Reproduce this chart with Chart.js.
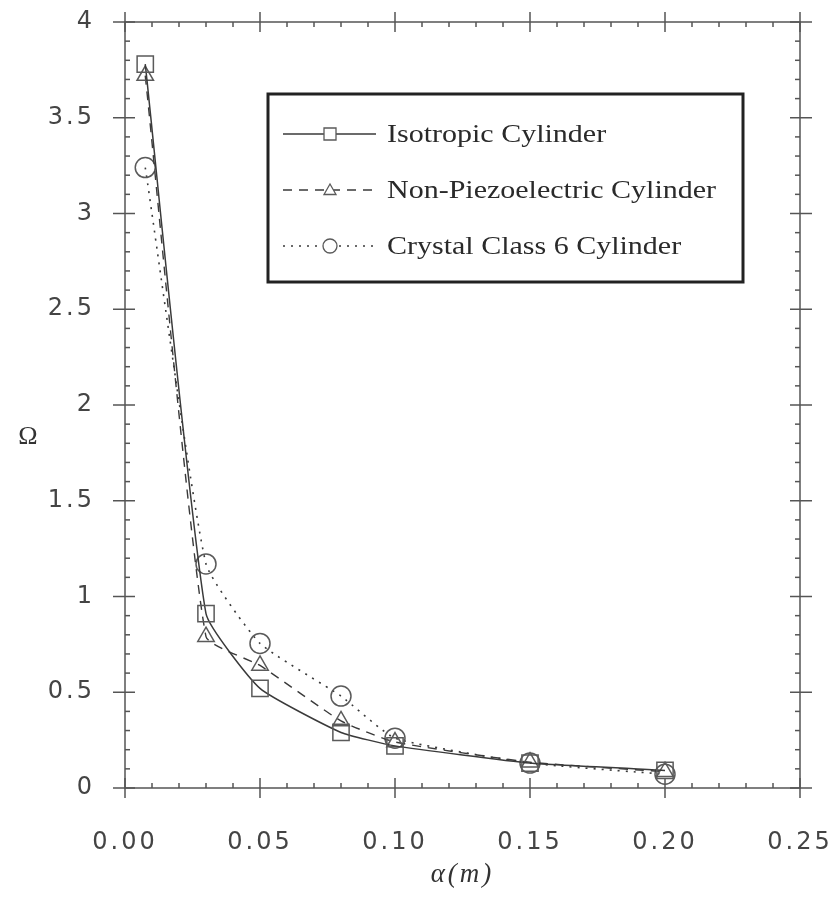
<!DOCTYPE html>
<html>
<head>
<meta charset="utf-8">
<title>Omega vs alpha</title>
<script src="https://cdn.jsdelivr.net/npm/chart.js@4.4.0/dist/chart.umd.min.js"></script>
<style>
  html, body { margin: 0; padding: 0; background: #fff; }
  #wrap { width: 840px; height: 907px; }
</style>
</head>
<body>
<div id="wrap"><canvas id="chart" width="840" height="907"></canvas></div>
<script>
// ── data ──
const alphaValues   = [0.0075, 0.03, 0.05, 0.08, 0.10, 0.15, 0.20];
const isotropic     = [3.78, 0.91, 0.52, 0.29, 0.22, 0.13, 0.092];
const nonPiezo      = [3.72, 0.79, 0.64, 0.35, 0.24, 0.135, 0.085];
const crystalClass6 = [3.24, 1.17, 0.755, 0.48, 0.26, 0.13, 0.072];
const seriesNames   = ['Isotropic Cylinder', 'Non-Piezoelectric Cylinder', 'Crystal Class 6 Cylinder'];
const xTicks = [0, 0.05, 0.10, 0.15, 0.20, 0.25];
const yTicks = [0, 0.5, 1, 1.5, 2, 2.5, 3, 3.5, 4];

const INK = '#3a3a3a';
const MARK = '#5a5a5a';
const toPoints = ys => alphaValues.map((a, i) => ({ x: a, y: ys[i] }));

// wide-spaced tick lettering like the scan
const spacing = {
    id: 'spacing',
    beforeDraw(chart) { chart.ctx.letterSpacing = '3px'; },
    beforeDatasetsDraw(chart) { chart.ctx.letterSpacing = '0px'; }
};

// frame on all four sides, major ticks crossing, minor ticks inside
const frameTicks = {
    id: 'frameTicks',
    beforeDatasetsDraw(chart) {
        const { ctx, chartArea: a, scales: { x, y } } = chart;
        ctx.save();
        ctx.strokeStyle = '#555';
        ctx.lineWidth = 1.5;
        ctx.strokeRect(a.left, a.top, a.right - a.left, a.bottom - a.top);
        const seg = (x1, y1, x2, y2) => { ctx.beginPath(); ctx.moveTo(x1, y1); ctx.lineTo(x2, y2); ctx.stroke(); };
        // x: minor every 0.01, major every 0.05
        for (let i = 0; i <= 25; i++) {
            const px = x.getPixelForValue(i * 0.01);
            const major = i % 5 === 0;
            seg(px, a.bottom - (major ? 10 : 5), px, a.bottom + (major ? 10 : 0));
            seg(px, a.top - (major ? 10 : 0), px, a.top + (major ? 10 : 5));
        }
        // y: minor every 0.1, major every 0.5
        for (let i = 0; i <= 40; i++) {
            const py = y.getPixelForValue(i * 0.1);
            const major = i % 5 === 0;
            seg(a.left - (major ? 12 : 0), py, a.left + (major ? 10 : 5), py);
            seg(a.right - (major ? 10 : 5), py, a.right + (major ? 12 : 0), py);
        }
        // Omega label, upright
        ctx.fillStyle = '#333';
        ctx.font = '26px "Liberation Serif"';
        ctx.textAlign = 'center';
        ctx.textBaseline = 'middle';
        ctx.fillText('Ω', 28, y.getPixelForValue(1.83));
        ctx.restore();
    }
};

// boxed legend with line sample + marker
const boxLegend = {
    id: 'boxLegend',
    afterDraw(chart) {
        const ctx = chart.ctx;
        const box = { l: 268, t: 94, r: 743, b: 282 };
        ctx.save();
        ctx.letterSpacing = '0px';
        ctx.fillStyle = '#fff';
        ctx.fillRect(box.l, box.t, box.r - box.l, box.b - box.t);
        ctx.strokeStyle = '#222';
        ctx.lineWidth = 3;
        ctx.strokeRect(box.l, box.t, box.r - box.l, box.b - box.t);

        chart.data.datasets.forEach((ds, i) => {
            const rowY = 134 + i * 56;
            ctx.strokeStyle = ds.borderColor;
            ctx.lineWidth = ds.borderWidth;
            ctx.setLineDash(ds.borderDash || []);
            ctx.beginPath();
            ctx.moveTo(283, rowY);
            ctx.lineTo(376, rowY);
            ctx.stroke();
            ctx.setLineDash([]);

            // marker, white behind so the line is broken
            const mx = 330, r = 6;
            ctx.fillStyle = '#fff';
            ctx.strokeStyle = MARK;
            ctx.lineWidth = 1.3;
            ctx.beginPath();
            if (ds.pointStyle === 'rect') ctx.rect(mx - r, rowY - r, 2 * r, 2 * r);
            else if (ds.pointStyle === 'triangle') {
                ctx.moveTo(mx, rowY - r);
                ctx.lineTo(mx + r, rowY + r * 0.75);
                ctx.lineTo(mx - r, rowY + r * 0.75);
                ctx.closePath();
            } else ctx.arc(mx, rowY, r + 1, 0, Math.PI * 2);
            ctx.fill();
            ctx.stroke();

            // scanned serif text is wide: stretch it a little
            ctx.save();
            ctx.translate(387, rowY + 1);
            ctx.scale(1.2, 1);
            ctx.fillStyle = '#2a2a2a';
            ctx.font = '25px "Liberation Serif"';
            ctx.textAlign = 'left';
            ctx.textBaseline = 'middle';
            ctx.fillText(seriesNames[i], 0, 0);
            ctx.restore();
        });
        ctx.restore();
    }
};

const common = {
    borderColor: INK,
    borderWidth: 1.5,
    backgroundColor: 'rgba(0,0,0,0)',
    pointBorderColor: MARK,
    pointBackgroundColor: 'rgba(255,255,255,0)',
    pointBorderWidth: 1.5,
    tension: 0.15,
    fill: false
};

new Chart(document.getElementById('chart'), {
    type: 'line',
    data: {
        datasets: [
            { ...common, label: seriesNames[0], data: toPoints(isotropic), pointStyle: 'rect', pointRadius: 11.5 },
            { ...common, label: seriesNames[1], data: toPoints(nonPiezo), pointStyle: 'triangle', pointRadius: 9.5, borderDash: [9, 7], borderWidth: 1.4 },
            { ...common, label: seriesNames[2], data: toPoints(crystalClass6), pointStyle: 'circle', pointRadius: 10, borderDash: [2, 6], borderWidth: 1.6 }
        ]
    },
    options: {
        responsive: false,
        animation: false,
        devicePixelRatio: 1,
        layout: { padding: { top: 22, right: 40, left: 0, bottom: 0 } },
        plugins: { legend: { display: false }, tooltip: { enabled: false } },
        scales: {
            x: {
                type: 'linear',
                min: 0, max: 0.25,
                afterFit: s => { s.height = 119; s.paddingLeft = 0; s.paddingRight = 0; },
                afterBuildTicks: s => { s.ticks = xTicks.map(v => ({ value: v })); },
                grid: { display: false },
                border: { display: false },
                ticks: {
                    padding: 32,
                    color: '#444',
                    maxRotation: 0,
                    font: { family: 'DejaVu Sans', size: 24 },
                    callback: v => Number(v).toFixed(2)
                },
                title: {
                    display: true,
                    text: 'α(m)',
                    color: '#333',
                    font: { family: 'Liberation Serif', size: 27, style: 'italic' },
                    padding: { top: 4, bottom: 16 }
                }
            },
            y: {
                type: 'linear',
                min: 0, max: 4,
                afterFit: s => { s.width = 125; s.paddingTop = 0; s.paddingBottom = 0; },
                afterBuildTicks: s => { s.ticks = yTicks.map(v => ({ value: v })); },
                grid: { display: false },
                border: { display: false },
                ticks: {
                    padding: 22,
                    color: '#444',
                    font: { family: 'DejaVu Sans', size: 24 },
                    callback: v => String(v)
                }
            }
        }
    },
    plugins: [spacing, frameTicks, boxLegend]
});
</script>
</body>
</html>
